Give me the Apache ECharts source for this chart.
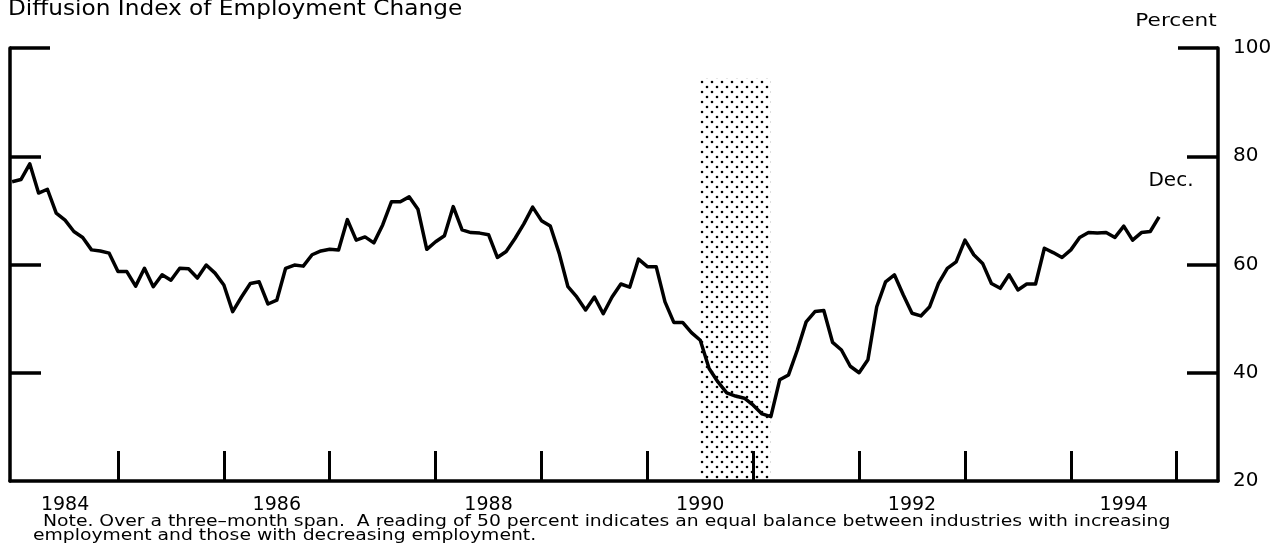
<!DOCTYPE html>
<html>
<head>
<meta charset="utf-8">
<script src="https://cdn.jsdelivr.net/npm/echarts@6/dist/echarts.min.js"></script>
<style>
html,body{margin:0;padding:0;background:#fff;}
#c{width:1284px;height:557px;}
</style>
</head>
<body>
<div id="c"></div>
<script>
// ---- data ----
const startYear = 1984; // first monthly observation: January 1984
const values = [
  75.3, 75.7, 78.6, 73.2, 73.9, 69.5, 68.2, 66.1, 65.0, 62.7, 62.5, 62.1,
  58.7, 58.7, 56.0, 59.3, 55.9, 58.1, 57.1, 59.3, 59.2, 57.5, 59.9, 58.4,
  56.2, 51.3, 54.0, 56.5, 56.8, 52.7, 53.4, 59.3, 59.9, 59.7, 61.8, 62.5,
  62.8, 62.7, 68.3, 64.5, 65.1, 64.0, 67.3, 71.6, 71.6, 72.5, 70.2, 62.8,
  64.2, 65.3, 70.7, 66.4, 65.9, 65.8, 65.5, 61.3, 62.4, 64.8, 67.5, 70.6,
  68.1, 67.1, 62.1, 55.9, 54.0, 51.6, 54.0, 50.9, 54.0, 56.4, 55.8, 61.0,
  59.6, 59.6, 53.1, 49.3, 49.3, 47.4, 46.0, 40.8, 38.3, 36.3, 35.7, 35.3,
  34.0, 32.4, 31.9, 38.7, 39.6, 44.2, 49.4, 51.3, 51.5, 45.6, 44.2, 41.2,
  40.0, 42.4, 52.2, 56.8, 58.1, 54.4, 51.0, 50.5, 52.2, 56.5, 59.3, 60.5,
  64.5, 61.8, 60.2, 56.5, 55.6, 58.1, 55.3, 56.4, 56.4, 63.0, 62.2, 61.3,
  62.7, 65.0, 65.9, 65.8, 65.9, 65.0, 67.1, 64.5, 65.9, 66.1, 68.8
];
const yearLabels = [1984, 1986, 1988, 1990, 1992, 1994];
const yearTicks = [1985, 1986, 1987, 1988, 1989, 1990, 1991, 1992, 1993, 1994, 1995];
const yLabels = [20, 40, 60, 80, 100];
const recessionStart = 1990.5;   // July 1990
const recessionEnd = 1991.1667;  // March 1991
const recessionTop = 94.4;

const titleText = 'Diffusion Index of Employment Change';
const unitText = 'Percent';
const lastLabel = 'Dec.';
const note1 = 'Note. Over a three\u2013month span.  A reading of 50 percent indicates an equal balance between industries with increasing';
const note2 = 'employment and those with decreasing employment.';

// ---- dotted pattern for the recession band ----
const pat = document.createElement('canvas');
pat.width = 10; pat.height = 10;
const pctx = pat.getContext('2d');
pctx.fillStyle = '#000';
pctx.beginPath(); pctx.arc(2, 2, 1.3, 0, Math.PI * 2); pctx.fill();
pctx.beginPath(); pctx.arc(7, 7, 1.3, 0, Math.PI * 2); pctx.fill();

const FONT = '"DejaVu Sans", sans-serif';
const chart = echarts.init(document.getElementById('c'), null, {renderer: 'canvas'});

const seriesData = values.map((v, i) => [startYear + i / 12, v]);

const option = {
  backgroundColor: '#fff',
  animation: false,
  grid: {left: 10, right: 66, top: 48, bottom: 76, containLabel: false},
  xAxis: {
    type: 'value',
    min: 1983.98,
    max: 1995.39,
    splitLine: {show: false},
    axisLine: {show: true, onZero: false, lineStyle: {color: '#000', width: 3.5}},
    axisTick: {show: true, inside: true, length: 30, customValues: yearTicks, lineStyle: {color: '#000', width: 3}},
    axisLabel: {
      show: true, customValues: yearLabels.map(y => y + 0.5),
      formatter: v => String(Math.floor(v)),
      color: '#000', fontFamily: FONT, fontSize: 19, margin: 15
    }
  },
  yAxis: [
    { // right axis with labels
      type: 'value', position: 'right', min: 20, max: 100, interval: 20,
      splitLine: {show: false},
      axisLine: {show: true, lineStyle: {color: '#000', width: 3.5}},
      axisTick: {show: true, inside: true, length: 31, customValues: [40, 60, 80], lineStyle: {color: '#000', width: 3.5}},
      axisLabel: {show: true, customValues: yLabels, color: '#000', fontFamily: FONT, fontSize: 20, margin: 15}
    },
    { // right long tick at 100
      type: 'value', position: 'right', min: 20, max: 100,
      splitLine: {show: false}, axisLine: {show: false}, axisLabel: {show: false},
      axisTick: {show: true, inside: true, length: 40, customValues: [100], lineStyle: {color: '#000', width: 3.5}}
    },
    { // left axis
      type: 'value', position: 'left', min: 20, max: 100,
      splitLine: {show: false}, axisLabel: {show: false},
      axisLine: {show: true, lineStyle: {color: '#000', width: 3.5}},
      axisTick: {show: true, inside: true, length: 31, customValues: [40, 60, 80], lineStyle: {color: '#000', width: 3.5}}
    },
    { // left long tick at 100
      type: 'value', position: 'left', min: 20, max: 100,
      splitLine: {show: false}, axisLine: {show: false}, axisLabel: {show: false},
      axisTick: {show: true, inside: true, length: 40, customValues: [100], lineStyle: {color: '#000', width: 3.5}}
    }
  ],
  series: [{
    type: 'line',
    data: seriesData,
    yAxisIndex: 0,
    showSymbol: false,
    symbol: 'none',
    smooth: false,
    lineStyle: {color: '#000', width: 3.5, join: 'round'},
    z: 5,
    markArea: {
      silent: true,
      itemStyle: {color: {image: pat, repeat: 'repeat'}, opacity: 1},
      data: [[{xAxis: recessionStart, yAxis: 20}, {xAxis: recessionEnd, yAxis: recessionTop}]]
    }
  }],
  graphic: [
    {type: 'text', x: 8, y: 20, scaleX: 1.055, style: {text: titleText, font: '22px ' + FONT, fill: '#000', textVerticalAlign: 'bottom'}},
    {type: 'text', x: 1176, y: 21, scaleX: 1.2, style: {text: unitText, font: '18px ' + FONT, fill: '#000', textAlign: 'center', textVerticalAlign: 'middle'}},
    {type: 'text', x: 1171, y: 181, style: {text: lastLabel, font: '20px ' + FONT, fill: '#000', textAlign: 'center', textVerticalAlign: 'middle'}},
    {type: 'text', x: 43, y: 522, scaleX: 1.173, style: {text: note1, font: '16px ' + FONT, fill: '#000', textVerticalAlign: 'middle'}},
    {type: 'text', x: 33, y: 536, scaleX: 1.173, style: {text: note2, font: '16px ' + FONT, fill: '#000', textVerticalAlign: 'middle'}}
  ]
};
chart.setOption(option);
</script>
</body>
</html>
